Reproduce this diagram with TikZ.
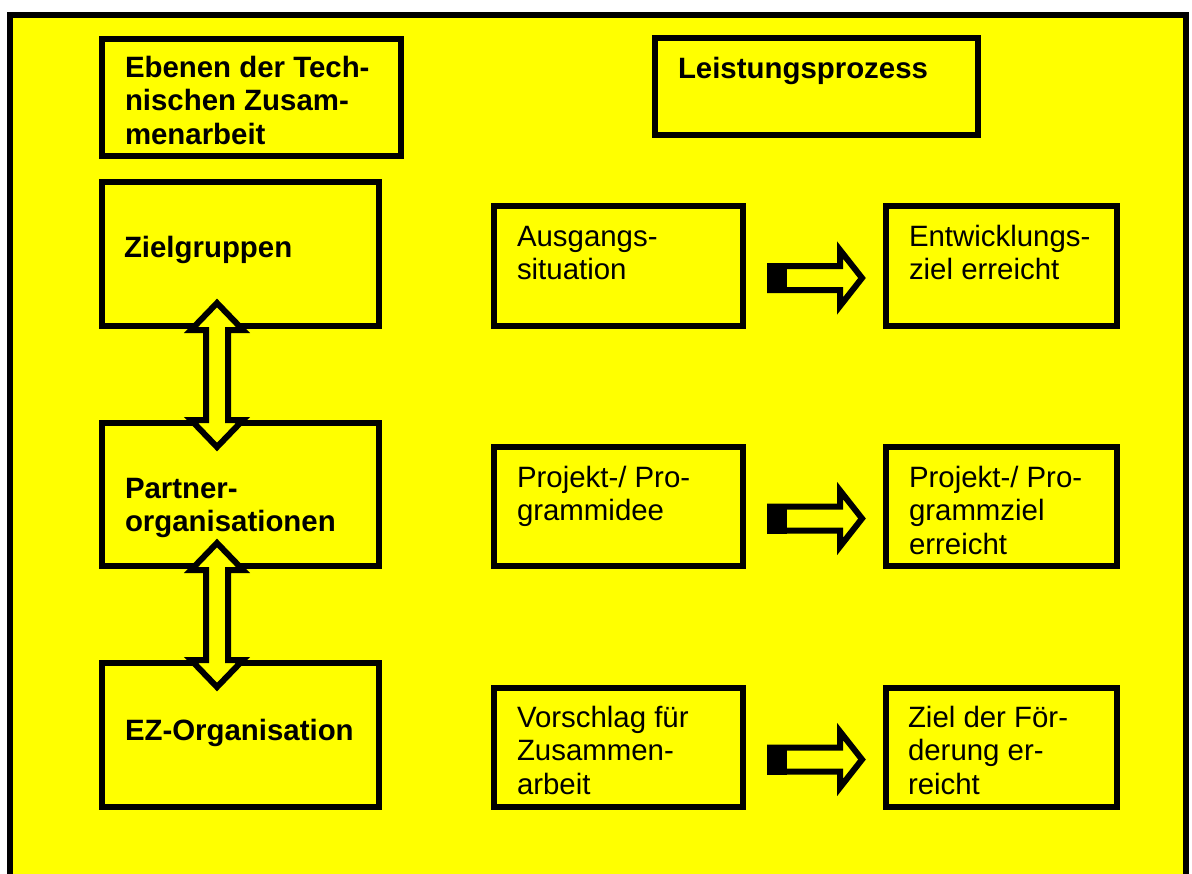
\documentclass[tikz,border=0pt]{standalone}
\usepackage{fontspec}
\setmainfont{Liberation Sans}
\usetikzlibrary{calc,fit}
\definecolor{bg}{RGB}{255,255,0}
\tikzset{
  frame/.style={draw=black, line width=3pt, fill=bg},
  box/.style={draw=black, line width=3pt, fill=bg, rectangle, inner sep=0pt, outer sep=0pt},
  lbl/.style={anchor=base west, inner sep=0pt, outer sep=0pt, align=left,
              font=\fontsize{14.7pt}{16.75pt}\selectfont},
  lblb/.style={lbl, font=\fontsize{14.7pt}{16.75pt}\selectfont\bfseries},
  blockarrow/.style={draw=black, line width=3pt, fill=bg, miter limit=10},
}
% horizontal block arrow with a solid black tail, from box #1 to box #2
\newcommand{\harrowdraw}[2]{%
  \coordinate (#1-tail) at ($(#1.east)+(27,12)$);
  \coordinate (#2-tip) at ($(#2.west)+(-24,12)$);
  \draw[blockarrow] ($(#1-tail)+(0,-12)$) -- ($(#2-tip)+(-22,-12)$) -- ++(0,-16)
    -- (#2-tip) -- ($(#2-tip)+(-22,28)$) -- ++(0,-16) -- ($(#1-tail)+(0,12)$) -- cycle;
  \fill[black] ($(#1-tail)+(-3,-15)$) rectangle ++(20,30);
}
% vertical double-headed block arrow between box #1 (above) and box #2 (below)
\newcommand{\varrowdraw}[2]{%
  \coordinate (#1-top) at ($(#1.south west)+(115,-23)$);
  \coordinate (#2-bot) at ($(#2.north west)+(115,24)$);
  \draw[blockarrow] (#1-top) -- ++(26,27) -- ++(-15,0) -- ($(#2-bot)+(11,-27)$)
    -- ++(15,0) -- (#2-bot) -- ++(-26,-27) -- ++(15,0) -- ($(#1-top)+(-11,27)$)
    -- ++(-15,0) -- cycle;
}
\begin{document}
\begin{tikzpicture}[x=0.5pt, y=-0.5pt]
  \useasboundingbox (0,0) rectangle (1192,873);
  \fill[white] (0,0) rectangle (1192,873);
  \begin{scope}
    \clip (0,0) rectangle (1192,873);
    \draw[frame] (10,14.5) rectangle (1186,900);
  \end{scope}

  % left column: levels of cooperation
  \node[box, fit={(102,39) (401,156)}] (ebenen) {};
  \node[box, fit={(102,182) (379,326)}] (ziel) {};
  \node[box, fit={(102,423) (379,566)}] (partner) {};
  \node[box, fit={(102,663) (379,807)}] (ez) {};

  % right columns: performance process
  \node[box, fit={(655,38) (978,135)}] (leistung) {};
  \node[box, fit={(494,206) (743,326)}] (aus) {};
  \node[box, fit={(886,206) (1117,326)}] (entw) {};
  \node[box, fit={(494,447) (743,566)}] (pidee) {};
  \node[box, fit={(886,447) (1117,566)}] (pziel) {};
  \node[box, fit={(494,688) (743,807)}] (vor) {};
  \node[box, fit={(886,688) (1117,807)}] (zfoe) {};

  % labels
  \node[lblb] (ebenen-t) at ($(ebenen.north west)+(23,38)$)
    {\vtop{\hbox{Ebenen der Tech-}\hbox{nischen Zusam-}\hbox{menarbeit}}};
  \node[lblb] (ziel-t) at ($(ziel.north west)+(22,75)$) {Zielgruppen};
  \node[lblb] (partner-t) at ($(partner.north west)+(23,75)$)
    {\vtop{\hbox{Partner-}\hbox{organisationen}}};
  \node[lblb] (ez-t) at ($(ez.north west)+(23,77)$) {EZ-Organisation};
  \node[lblb] (leistung-t) at ($(leistung.north west)+(23,40)$) {Leistungsprozess};

  \node[lbl] (aus-t) at ($(aus.north west)+(23,40)$)
    {\vtop{\hbox{Ausgangs-}\hbox{situation}}};
  \node[lbl] (entw-t) at ($(entw.north west)+(23,40)$)
    {\vtop{\hbox{Entwicklungs-}\hbox{ziel erreicht}}};
  \node[lbl] (pidee-t) at ($(pidee.north west)+(23,40)$)
    {\vtop{\hbox{Projekt-/ Pro-}\hbox{grammidee}}};
  \node[lbl] (pziel-t) at ($(pziel.north west)+(23,40)$)
    {\vtop{\hbox{Projekt-/ Pro-}\hbox{grammziel}\hbox{erreicht}}};
  \node[lbl] (vor-t) at ($(vor.north west)+(23,39)$)
    {\vtop{\hbox{Vorschlag für}\hbox{Zusammen-}\hbox{arbeit}}};
  \node[lbl] (zfoe-t) at ($(zfoe.north west)+(22,39)$)
    {\vtop{\hbox{Ziel der För-}\hbox{derung er-}\hbox{reicht}}};

  % arrows
  \varrowdraw{ziel}{partner}
  \varrowdraw{partner}{ez}
  \harrowdraw{aus}{entw}
  \harrowdraw{pidee}{pziel}
  \harrowdraw{vor}{zfoe}
\end{tikzpicture}
\end{document}
